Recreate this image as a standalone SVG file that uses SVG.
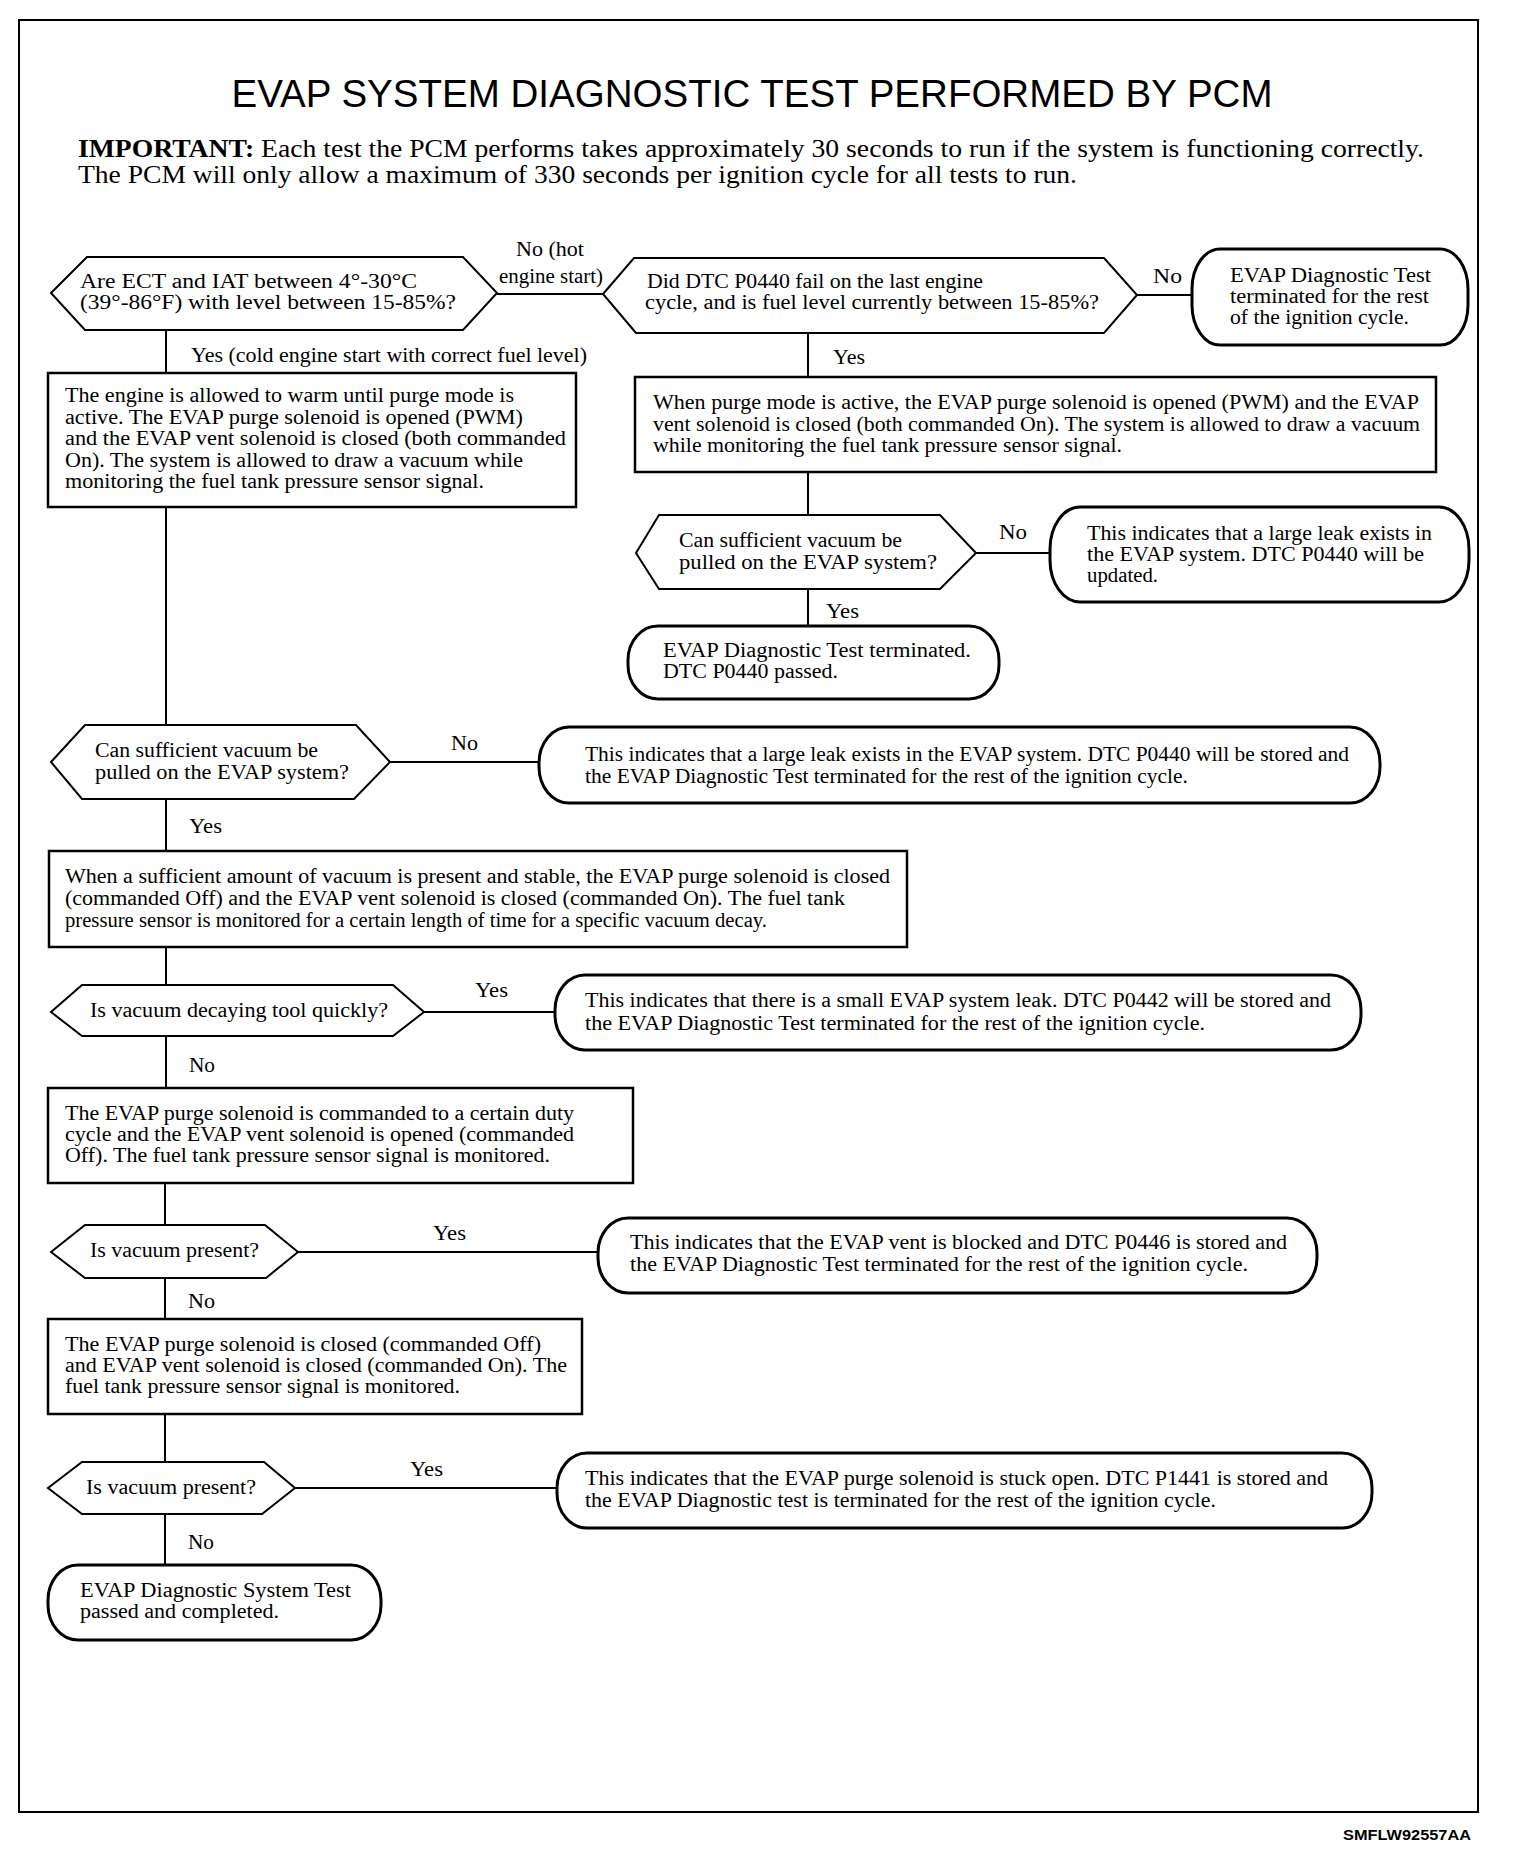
<svg xmlns="http://www.w3.org/2000/svg" width="1520" height="1854" viewBox="0 0 1520 1854">
<style>
.t{font-family:"Liberation Serif","Times New Roman",serif;font-size:20px;fill:#000}
.hex{fill:#fff;stroke:#000;stroke-width:2}
.box{fill:#fff;stroke:#000;stroke-width:2.5}
.term{fill:#fff;stroke:#000;stroke-width:3}
.conn path{fill:none;stroke:#000;stroke-width:2}
</style>
<rect x="0" y="0" width="1520" height="1854" fill="#fff"/>
<rect x="19" y="20" width="1459" height="1792" fill="none" stroke="#000" stroke-width="2"/>
<text x="752" y="107" text-anchor="middle" font-family="Liberation Sans, Arial, sans-serif" font-size="38" textLength="1041" lengthAdjust="spacingAndGlyphs">EVAP SYSTEM DIAGNOSTIC TEST PERFORMED BY PCM</text>
<text x="78" y="157" font-family="Liberation Serif, serif" font-size="26" textLength="1346" lengthAdjust="spacingAndGlyphs"><tspan font-weight="bold">IMPORTANT:</tspan> Each test the PCM performs takes approximately 30 seconds to run if the system is functioning correctly.</text>
<text x="78" y="183" font-family="Liberation Serif, serif" font-size="26" textLength="999" lengthAdjust="spacingAndGlyphs">The PCM will only allow a maximum of 330 seconds per ignition cycle for all tests to run.</text>

<g id="connectors" class="conn">
<path d="M497,294 H603"/>
<path d="M1137,295 H1192"/>
<path d="M166,330 V373"/>
<path d="M166,507 V725"/>
<path d="M390,762 H539"/>
<path d="M166,799 V851"/>
<path d="M166,947 V985"/>
<path d="M424,1012 H555"/>
<path d="M166,1036 V1088"/>
<path d="M165,1183 V1225"/>
<path d="M298,1252 H598"/>
<path d="M165,1278 V1319"/>
<path d="M165,1414 V1462"/>
<path d="M295,1488 H557"/>
<path d="M165,1514 V1565"/>
<path d="M808,333 V377"/>
<path d="M808,472 V515"/>
<path d="M976,553 H1050"/>
<path d="M808,589 V626"/>
</g>

<g id="labels" class="t">
<text x="516" y="256" textLength="68" lengthAdjust="spacingAndGlyphs">No (hot</text>
<text x="499" y="283" textLength="104" lengthAdjust="spacingAndGlyphs">engine start)</text>
<text x="1153" y="283" textLength="29" lengthAdjust="spacingAndGlyphs">No</text>
<text x="191" y="362" textLength="396" lengthAdjust="spacingAndGlyphs">Yes (cold engine start with correct fuel level)</text>
<text x="833" y="364" textLength="32" lengthAdjust="spacingAndGlyphs">Yes</text>
<text x="999" y="539" textLength="28" lengthAdjust="spacingAndGlyphs">No</text>
<text x="826" y="618" textLength="33" lengthAdjust="spacingAndGlyphs">Yes</text>
<text x="451" y="750" textLength="27" lengthAdjust="spacingAndGlyphs">No</text>
<text x="189" y="833" textLength="33" lengthAdjust="spacingAndGlyphs">Yes</text>
<text x="475" y="997" textLength="33" lengthAdjust="spacingAndGlyphs">Yes</text>
<text x="189" y="1072" textLength="26" lengthAdjust="spacingAndGlyphs">No</text>
<text x="433" y="1240" textLength="33" lengthAdjust="spacingAndGlyphs">Yes</text>
<text x="188" y="1308" textLength="27" lengthAdjust="spacingAndGlyphs">No</text>
<text x="410" y="1476" textLength="33" lengthAdjust="spacingAndGlyphs">Yes</text>
<text x="188" y="1549" textLength="26" lengthAdjust="spacingAndGlyphs">No</text>
</g>

<g id="q1">
<polygon class="hex" points="51,293 87,257 463,257 497,293 463,330 85,330"/>
<text class="t" x="80" y="288" textLength="337" lengthAdjust="spacingAndGlyphs">Are ECT and IAT between 4°-30°C</text>
<text class="t" x="80" y="309" textLength="376" lengthAdjust="spacingAndGlyphs">(39°-86°F) with level between 15-85%?</text>
</g>

<g id="q2">
<polygon class="hex" points="603,294 634,258 1104,258 1137,295 1104,333 636,333"/>
<text class="t" x="647" y="288" textLength="336" lengthAdjust="spacingAndGlyphs">Did DTC P0440 fail on the last engine</text>
<text class="t" x="645" y="309" textLength="454" lengthAdjust="spacingAndGlyphs">cycle, and is fuel level currently between 15-85%?</text>
</g>

<g id="end1">
<rect class="term" x="1192" y="249" width="276" height="96" rx="28" ry="40"/>
<text class="t" x="1230" y="282" textLength="201" lengthAdjust="spacingAndGlyphs">EVAP Diagnostic Test</text>
<text class="t" x="1230" y="303" textLength="199" lengthAdjust="spacingAndGlyphs">terminated for the rest</text>
<text class="t" x="1230" y="324" textLength="179" lengthAdjust="spacingAndGlyphs">of the ignition cycle.</text>
</g>

<g id="box1">
<rect class="box" x="48" y="373" width="528" height="134"/>
<text class="t" x="65" y="402" textLength="449" lengthAdjust="spacingAndGlyphs">The engine is allowed to warm until purge mode is</text>
<text class="t" x="65" y="424" textLength="458" lengthAdjust="spacingAndGlyphs">active. The EVAP purge solenoid is opened (PWM)</text>
<text class="t" x="65" y="445" textLength="501" lengthAdjust="spacingAndGlyphs">and the EVAP vent solenoid is closed (both commanded</text>
<text class="t" x="65" y="467" textLength="458" lengthAdjust="spacingAndGlyphs">On). The system is allowed to draw a vacuum while</text>
<text class="t" x="65" y="488" textLength="419" lengthAdjust="spacingAndGlyphs">monitoring the fuel tank pressure sensor signal.</text>
</g>

<g id="boxR1">
<rect class="box" x="635" y="377" width="801" height="95"/>
<text class="t" x="653" y="409" textLength="766" lengthAdjust="spacingAndGlyphs">When purge mode is active, the EVAP purge solenoid is opened (PWM) and the EVAP</text>
<text class="t" x="653" y="431" textLength="767" lengthAdjust="spacingAndGlyphs">vent solenoid is closed (both commanded On). The system is allowed to draw a vacuum</text>
<text class="t" x="653" y="452" textLength="469" lengthAdjust="spacingAndGlyphs">while monitoring the fuel tank pressure sensor signal.</text>
</g>

<g id="qR2">
<polygon class="hex" points="636,553 659,515 940,515 976,553 940,589 659,589"/>
<text class="t" x="679" y="547" textLength="223" lengthAdjust="spacingAndGlyphs">Can sufficient vacuum be</text>
<text class="t" x="679" y="569" textLength="258" lengthAdjust="spacingAndGlyphs">pulled on the EVAP system?</text>
</g>

<g id="endR2">
<rect class="term" x="1050" y="507" width="419" height="95" rx="30" ry="42"/>
<text class="t" x="1087" y="540" textLength="345" lengthAdjust="spacingAndGlyphs">This indicates that a large leak exists in</text>
<text class="t" x="1087" y="561" textLength="337" lengthAdjust="spacingAndGlyphs">the EVAP system. DTC P0440 will be</text>
<text class="t" x="1087" y="582" textLength="71" lengthAdjust="spacingAndGlyphs">updated.</text>
</g>

<g id="endR3">
<rect class="term" x="628" y="626" width="371" height="73" rx="30" ry="34"/>
<text class="t" x="663" y="657" textLength="308" lengthAdjust="spacingAndGlyphs">EVAP Diagnostic Test terminated.</text>
<text class="t" x="663" y="678" textLength="175" lengthAdjust="spacingAndGlyphs">DTC P0440 passed.</text>
</g>

<g id="q3">
<polygon class="hex" points="51,762 85,725 356,725 390,762 354,799 82,799"/>
<text class="t" x="95" y="757" textLength="223" lengthAdjust="spacingAndGlyphs">Can sufficient vacuum be</text>
<text class="t" x="95" y="779" textLength="254" lengthAdjust="spacingAndGlyphs">pulled on the EVAP system?</text>
</g>

<g id="end2">
<rect class="term" x="539" y="727" width="841" height="76" rx="30" ry="36"/>
<text class="t" x="585" y="761" textLength="764" lengthAdjust="spacingAndGlyphs">This indicates that a large leak exists in the EVAP system. DTC P0440 will be stored and</text>
<text class="t" x="585" y="783" textLength="603" lengthAdjust="spacingAndGlyphs">the EVAP Diagnostic Test terminated for the rest of the ignition cycle.</text>
</g>

<g id="box2">
<rect class="box" x="49" y="851" width="858" height="96"/>
<text class="t" x="65" y="883" textLength="825" lengthAdjust="spacingAndGlyphs">When a sufficient amount of vacuum is present and stable, the EVAP purge solenoid is closed</text>
<text class="t" x="65" y="905" textLength="780" lengthAdjust="spacingAndGlyphs">(commanded Off) and the EVAP vent solenoid is closed (commanded On). The fuel tank</text>
<text class="t" x="65" y="927" textLength="702" lengthAdjust="spacingAndGlyphs">pressure sensor is monitored for a certain length of time for a specific vacuum decay.</text>
</g>

<g id="q4">
<polygon class="hex" points="51,1012 82,985 393,985 424,1012 393,1036 82,1036"/>
<text class="t" x="90" y="1017" textLength="298" lengthAdjust="spacingAndGlyphs">Is vacuum decaying tool quickly?</text>
</g>

<g id="end3">
<rect class="term" x="555" y="975" width="806" height="75" rx="30" ry="35"/>
<text class="t" x="585" y="1007" textLength="746" lengthAdjust="spacingAndGlyphs">This indicates that there is a small EVAP system leak. DTC P0442 will be stored and</text>
<text class="t" x="585" y="1030" textLength="620" lengthAdjust="spacingAndGlyphs">the EVAP Diagnostic Test terminated for the rest of the ignition cycle.</text>
</g>

<g id="box3">
<rect class="box" x="48" y="1088" width="585" height="95"/>
<text class="t" x="65" y="1120" textLength="509" lengthAdjust="spacingAndGlyphs">The EVAP purge solenoid is commanded to a certain duty</text>
<text class="t" x="65" y="1141" textLength="509" lengthAdjust="spacingAndGlyphs">cycle and the EVAP vent solenoid is opened (commanded</text>
<text class="t" x="65" y="1162" textLength="485" lengthAdjust="spacingAndGlyphs">Off). The fuel tank pressure sensor signal is monitored.</text>
</g>

<g id="q5">
<polygon class="hex" points="51,1252 85,1225 265,1225 298,1252 266,1278 85,1278"/>
<text class="t" x="90" y="1257" textLength="169" lengthAdjust="spacingAndGlyphs">Is vacuum present?</text>
</g>

<g id="end4">
<rect class="term" x="598" y="1218" width="719" height="75" rx="30" ry="35"/>
<text class="t" x="630" y="1249" textLength="657" lengthAdjust="spacingAndGlyphs">This indicates that the EVAP vent is blocked and DTC P0446 is stored and</text>
<text class="t" x="630" y="1271" textLength="618" lengthAdjust="spacingAndGlyphs">the EVAP Diagnostic Test terminated for the rest of the ignition cycle.</text>
</g>

<g id="box4">
<rect class="box" x="48" y="1319" width="534" height="95"/>
<text class="t" x="65" y="1351" textLength="476" lengthAdjust="spacingAndGlyphs">The EVAP purge solenoid is closed (commanded Off)</text>
<text class="t" x="65" y="1372" textLength="502" lengthAdjust="spacingAndGlyphs">and EVAP vent solenoid is closed (commanded On). The</text>
<text class="t" x="65" y="1393" textLength="395" lengthAdjust="spacingAndGlyphs">fuel tank pressure sensor signal is monitored.</text>
</g>

<g id="q6">
<polygon class="hex" points="48,1488 82,1462 264,1462 295,1488 262,1514 82,1514"/>
<text class="t" x="86" y="1494" textLength="170" lengthAdjust="spacingAndGlyphs">Is vacuum present?</text>
</g>

<g id="end5">
<rect class="term" x="557" y="1453" width="815" height="75" rx="30" ry="35"/>
<text class="t" x="585" y="1485" textLength="743" lengthAdjust="spacingAndGlyphs">This indicates that the EVAP purge solenoid is stuck open. DTC P1441 is stored and</text>
<text class="t" x="585" y="1507" textLength="631" lengthAdjust="spacingAndGlyphs">the EVAP Diagnostic test is terminated for the rest of the ignition cycle.</text>
</g>

<g id="end6">
<rect class="term" x="48" y="1565" width="333" height="75" rx="30" ry="35"/>
<text class="t" x="80" y="1597" textLength="271" lengthAdjust="spacingAndGlyphs">EVAP Diagnostic System Test</text>
<text class="t" x="80" y="1618" textLength="199" lengthAdjust="spacingAndGlyphs">passed and completed.</text>
</g>

<text x="1343" y="1840" font-family="Liberation Sans, Arial, sans-serif" font-size="14" font-weight="bold" textLength="128" lengthAdjust="spacingAndGlyphs">SMFLW92557AA</text>
</svg>
